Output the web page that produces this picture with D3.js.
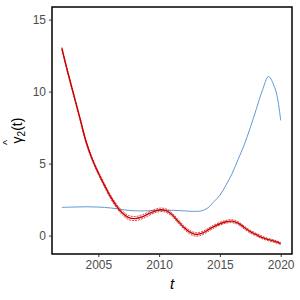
<!DOCTYPE html>
<html><head><meta charset="utf-8">
<script src="https://cdn.jsdelivr.net/npm/d3@7"></script>
<style>body{margin:0;background:#fff}svg{display:block}</style>
</head><body>
<svg id="c" width="300" height="300"></svg>
<script>
const redYears = [2002,2002.5,2003,2003.5,2004,2004.5,2005,2005.5,2006,2006.5,2007,2007.5,2008,2008.5,2009,2009.5,2010,2010.5,2011,2011.5,2012,2012.5,2013,2013.5,2014,2014.5,2015,2015.5,2016,2016.5,2017,2017.5,2018,2018.5,2019,2019.5,2020];
const redMid   = [13.0,11.3,9.7,8.1,6.5,5.3,4.35,3.5,2.7,2.05,1.55,1.25,1.18,1.27,1.45,1.65,1.78,1.75,1.5,1.05,0.6,0.25,0.08,0.15,0.38,0.62,0.82,0.96,1.0,0.86,0.56,0.27,0.06,-0.14,-0.28,-0.4,-0.55];
const redUpper = [13.08,11.38,9.78,8.19,6.59,5.39,4.45,3.61,2.82,2.18,1.69,1.39,1.32,1.41,1.58,1.77,1.9,1.87,1.62,1.17,0.72,0.37,0.2,0.27,0.49,0.73,0.92,1.06,1.1,0.96,0.66,0.37,0.15,-0.05,-0.2,-0.32,-0.48];
const redLower = [12.92,11.22,9.62,8.01,6.41,5.21,4.25,3.39,2.58,1.92,1.41,1.11,1.04,1.13,1.32,1.53,1.66,1.63,1.38,0.93,0.48,0.13,-0.04,0.03,0.27,0.51,0.72,0.86,0.9,0.76,0.46,0.17,-0.03,-0.23,-0.36,-0.48,-0.62];
const blueYears = [2002,2003,2004,2005,2006,2007,2008,2009,2010,2011,2012,2013,2013.5,2014,2014.5,2015,2015.5,2016,2016.5,2017,2017.5,2018,2018.5,2019,2019.5,2019.75,2020];
const blueVals  = [1.96,1.98,2.0,1.98,1.92,1.8,1.72,1.72,1.76,1.76,1.72,1.68,1.72,1.92,2.35,2.8,3.5,4.3,5.3,6.3,7.5,8.8,10.1,11.05,10.3,9.5,8.0];
const xTicks = [2005,2010,2015,2020];
const yTicks = [0,5,10,15];

const L=52,T=7,R=292,B=254;
const x = d3.scaleLinear().domain([2001.19,2020.93]).range([L,R]);
const y = d3.scaleLinear().domain([-1.28,15.875]).range([B,T]);
const svg = d3.select("#c");
const font = "'Liberation Sans', Arial, sans-serif";

const line = (xs, vs) => d3.line().x((d,i)=>x(xs[i])).y(d=>y(d)).curve(d3.curveCatmullRom)(vs);

const g = svg.append("g");
g.append("path").attr("d", line(blueYears, blueVals)).attr("fill","none").attr("stroke","#6398d3").attr("stroke-width",1);
g.append("path").attr("d", line(redYears, redUpper)).attr("fill","none").attr("stroke","#d01010").attr("stroke-width",0.8).attr("stroke-dasharray","2,1");
g.append("path").attr("d", line(redYears, redLower)).attr("fill","none").attr("stroke","#d01010").attr("stroke-width",0.8).attr("stroke-dasharray","2,1");
g.append("path").attr("d", line(redYears, redMid)).attr("fill","none").attr("stroke","#cc0000").attr("stroke-width",1.4);

svg.append("rect").attr("x",L).attr("y",T).attr("width",R-L).attr("height",B-T).attr("fill","none").attr("stroke","#000").attr("stroke-width",1.5);

const xa = svg.append("g").attr("transform",`translate(0,${B})`).call(d3.axisBottom(x).tickValues(xTicks).tickFormat(d3.format("d")).tickSize(3).tickPadding(3));
const ya = svg.append("g").attr("transform",`translate(${L},0)`).call(d3.axisLeft(y).tickValues(yTicks).tickSize(3).tickPadding(3));
[xa,ya].forEach(a=>{a.select(".domain").remove();a.selectAll("line").attr("stroke","#333");a.selectAll("text").attr("fill","#4d4d4d").style("font-family",font).style("font-size","12px");});

svg.append("text").attr("x",(L+R)/2).attr("y",289).attr("text-anchor","middle").style("font-family",font).style("font-size","15px").style("font-style","italic").text("t");

const yl = svg.append("g").attr("transform",`translate(22,${(T+B)/2}) rotate(-90)`);
const t = yl.append("text").attr("text-anchor","middle").style("font-family",font).style("font-size","14px").attr("fill","#000");
t.append("tspan").text("γ");
t.append("tspan").attr("dy",3).style("font-size","10px").text("2");
t.append("tspan").attr("dy",-3).text("(t)");
yl.append("text").attr("x",-12).attr("y",-11).attr("text-anchor","middle").style("font-family",font).style("font-size","11px").text("^");
</script>
</body></html>
